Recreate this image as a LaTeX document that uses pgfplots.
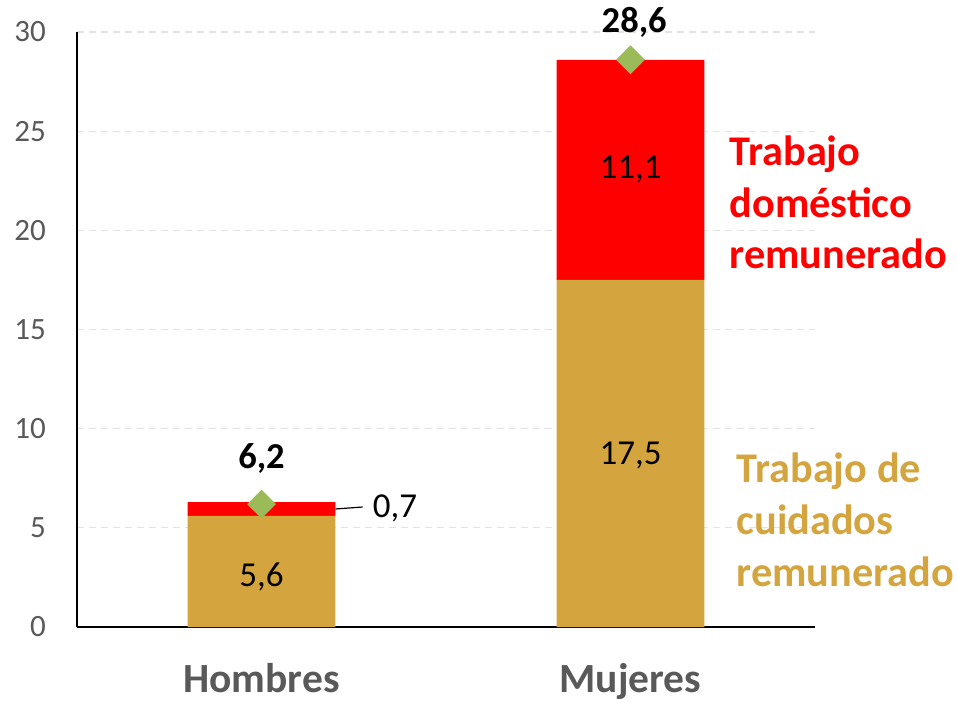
\documentclass[border=0pt]{standalone}
\usepackage{pgfplots}
\pgfplotsset{compat=1.18}
\usepackage{fontspec}
\setmainfont{Carlito}
\definecolor{gold}{HTML}{D4A43E}
\definecolor{myred}{HTML}{FF0000}
\definecolor{mygreen}{HTML}{9BBB59}
\definecolor{txtgrey}{HTML}{595959}
\definecolor{gridgrey}{HTML}{E3E3E3}
\begin{document}
\begin{tikzpicture}
\path[use as bounding box] (-77pt,-75pt) rectangle (880pt,627pt);
\pgfplotsset{common/.style={
  at={(0pt,0pt)}, anchor=south west, scale only axis,
  width=738pt, height=595pt,
  xmin=-0.5, xmax=1.5, ymin=0, ymax=30, clip=false}}
\begin{axis}[common,
  ybar stacked, bar width=0.4,
  axis x line*=bottom, axis y line*=left,
  axis line style={-, black, line width=1.3pt},
  xtick={0,1}, xticklabels={Hombres,Mujeres},
  ytick={0,5,...,30},
  major tick length=0pt,
  ymajorgrids,
  grid style={gridgrey, dash pattern=on 7pt off 5pt, line width=1.3pt},
  /pgf/number format/assume math mode=true,
  yticklabel style={font=\fontsize{31}{36}\selectfont, text=txtgrey, inner sep=0pt, anchor=east, xshift=-31pt},
  xticklabel style={font=\fontsize{41.5}{48}\selectfont\bfseries, text=txtgrey, inner sep=0pt, anchor=north, yshift=-36pt},
]
\addplot[fill=gold, draw=none] coordinates {(0,5.6) (1,17.5)};
\addplot[fill=myred, draw=none] coordinates {(0,0.7) (1,11.1)};
\end{axis}
\begin{axis}[common, hide axis]
\addplot[only marks, mark=square*, mark size=9.9pt, mark options={rotate=45, fill=mygreen, draw=mygreen}] coordinates {(0,6.2) (1,28.6)};
\node[font=\fontsize{35}{42}\selectfont] at (axis cs:0,2.55) {5,6};
\node[font=\fontsize{35}{42}\selectfont] at (axis cs:1,8.67) {17,5};
\node[font=\fontsize{35}{42}\selectfont] at (axis cs:1,23.05) {11,1};
\node[font=\fontsize{35}{42}\selectfont, anchor=west, inner sep=0pt] at (axis cs:0.301,6.0) {0,7};
\draw[black, line width=1.2pt] (axis cs:0.2,5.95) -- (axis cs:0.274,6.05);
\node[font=\fontsize{36.5}{42}\selectfont\bfseries] at (axis cs:0,8.52) {6,2};
\node[font=\fontsize{36.5}{42}\selectfont\bfseries] at (axis cs:1.01,30.5) {28,6};
\node[font=\fontsize{42.3}{51.5}\selectfont\bfseries, text=myred, align=left, anchor=west, inner sep=0pt] at (axis cs:1.268,21.4) {Trabajo\\doméstico\\remunerado};
\node[font=\fontsize{42.3}{52}\selectfont\bfseries, text=gold, align=left, anchor=west, inner sep=0pt] at (axis cs:1.287,5.4) {Trabajo de\\cuidados\\remunerado};
\end{axis}
\end{tikzpicture}
\end{document}
